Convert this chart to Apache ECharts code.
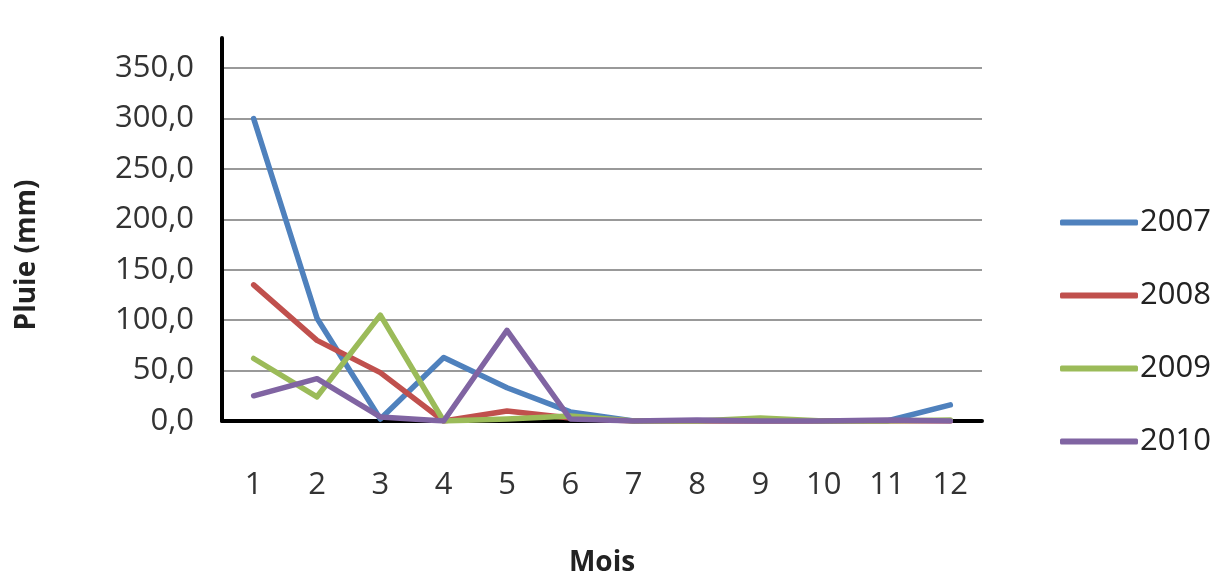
<!DOCTYPE html>
<html>
<head>
<meta charset="utf-8">
<script src="https://cdn.jsdelivr.net/npm/echarts@6/dist/echarts.min.js"></script>
<style>html,body{margin:0;padding:0;background:#fff}#c{width:1220px;height:579px}</style>
</head>
<body>
<div id="c"></div>
<script>
var months = ['1','2','3','4','5','6','7','8','9','10','11','12'];
var years = ['2007','2008','2009','2010'];
var rain2007 = [300, 102, 2, 63, 33, 9, 0, 0, 0, 0, 0, 16];
var rain2008 = [135, 80, 48, 0, 10, 3, 0, 0, 0, 0, 0, 0];
var rain2009 = [62, 24, 105, 0, 2, 5, 0, 0, 3, 0, 0, 1];
var rain2010 = [25, 42, 4, 0, 90, 2, 0, 1, 0, 0, 1, 0];
var yTicks = [0, 50, 100, 150, 200, 250, 300, 350];
var colors = ['#4F81BD', '#C0504D', '#9BBB59', '#8064A2'];
var font = "'Open Sans', 'Liberation Sans', sans-serif";

var chart = echarts.init(document.getElementById('c'));
var seriesData = [rain2007, rain2008, rain2009, rain2010];
chart.setOption({
  animation: false,
  color: colors,
  grid: { left: 222, right: 238, top: 38, bottom: 158, outerBoundsMode: 'none', containLabel: false },
  legend: {
    orient: 'vertical', left: 1055, top: 202,
    itemWidth: 78, itemHeight: 6, itemGap: 42,
    icon: 'roundRect',
    textStyle: { fontFamily: font, fontSize: 31, color: '#222', padding: [0,0,0,-3] },
    data: years
  },
  graphic: [{
    type: 'text', x: 27, y: 255, rotation: Math.PI / 2,
    style: { text: 'Pluie (mm)', fontFamily: font, fontSize: 28, fontWeight: 'bold', fill: '#222', align: 'center', verticalAlign: 'middle' }
  }],
  xAxis: {
    type: 'category', data: months, boundaryGap: true,
    name: 'Mois', nameLocation: 'middle', nameGap: 128,
    nameTextStyle: { fontFamily: font, fontSize: 28, fontWeight: 'bold', color: '#222' },
    axisLine: { lineStyle: { color: '#000', width: 4 } },
    axisTick: { show: false },
    axisLabel: { fontFamily: font, fontSize: 31, color: '#333', margin: 49 }
  },
  yAxis: {
    type: 'value', min: 0, max: 380, interval: 50,
    axisLine: { show: true, lineStyle: { color: '#000', width: 4 } },
    axisTick: { show: false },
    splitLine: { show: true, showMaxLine: false, lineStyle: { color: '#999', width: 2 } },
    axisLabel: {
      fontFamily: font, fontSize: 31, color: '#333', margin: 28, showMaxLabel: false,
      formatter: function (v) { return yTicks.indexOf(v) >= 0 ? v.toFixed(1).replace('.', ',') : ''; }
    }
  },
  series: years.map(function (y, i) {
    return {
      name: y, type: 'line', data: seriesData[i],
      showSymbol: false, symbol: 'none',
      lineStyle: { width: 5.5, color: colors[i], cap: 'round', join: 'round' }
    };
  })
});
</script>
</body>
</html>
